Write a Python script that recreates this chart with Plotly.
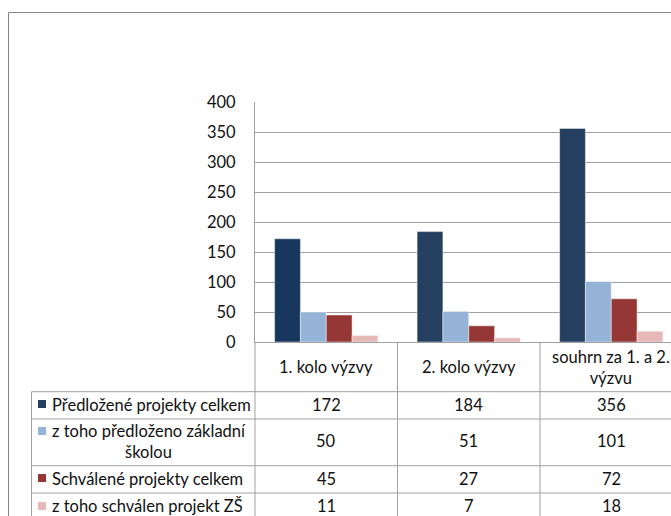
import plotly.graph_objects as go

# ---- data ----
categories = ["1. kolo výzvy", "2. kolo výzvy", "souhrn za 1. a 2.<br>výzvu"]
series_names = [
    "Předložené projekty celkem",
    "z toho předloženo základní<br>školou",
    "Schválené projekty celkem",
    "z toho schválen projekt ZŠ",
]
predlozene = [172, 184, 356]
predlozene_zs = [50, 51, 101]
schvalene = [45, 27, 72]
schvalene_zs = [11, 7, 18]
series_values = [predlozene, predlozene_zs, schvalene, schvalene_zs]
y_ticks = [0, 50, 100, 150, 200, 250, 300, 350, 400]

# ---- style ----
W, H = 671, 516
ML, MR, MT, MB = 255, 0, 102, 174
PW, PH = W - ML - MR, H - MT - MB
CAT_W = 142.5
XR = [-0.5, PW / CAT_W - 0.5]
colors = ["#243F60", "#95B3D7", "#953735", "#E6B9B8"]
first_colors = ["#17375E", "#243F60", "#243F60"]
FONT = "Lato"
FS = 16.5
GRID = "#A0A0A0"
TXT = "#111111"


def px(x):
    return (x - ML) / PW


def py(y):
    return (H - MB - y) / PH


def cx(v):
    return (v - XR[0]) / (XR[1] - XR[0])


fig = go.Figure()
x_idx = list(range(len(categories)))
for i, (name, vals) in enumerate(zip(series_names, series_values)):
    fig.add_trace(go.Bar(
        x=x_idx, y=vals, name=name.replace("<br>", " "),
        marker=dict(color=first_colors if i == 0 else colors[i],
                    line=dict(color="rgba(255,255,255,0.45)", width=1)),
        showlegend=False, hoverinfo="y",
    ))

shapes = []
line = dict(color=GRID, width=1)
# outer chart border
shapes.append(dict(type="rect", xref="paper", yref="paper",
                   x0=px(8.5), x1=px(700), y0=py(12.5), y1=py(540),
                   line=dict(color="#868686", width=1)))
# table horizontal lines
row_lines = [391.7, 419, 465.7, 493, 520]
for yy in row_lines:
    shapes.append(dict(type="line", xref="paper", yref="paper",
                       x0=px(31.5), x1=px(700), y0=py(yy), y1=py(yy), line=line))
# table left border
shapes.append(dict(type="line", xref="paper", yref="paper",
                   x0=px(31.5), x1=px(31.5), y0=py(row_lines[0]), y1=py(540), line=line))
# category column dividers (from axis down through table)
for b in [-0.5, 0.5, 1.5, 2.5]:
    shapes.append(dict(type="line", xref="paper", yref="paper",
                       x0=cx(b), x1=cx(b), y0=0, y1=py(540), line=line))

annotations = []
# header row: category names
for i, c in enumerate(categories):
    annotations.append(dict(x=i, xref="x", y=py(367), yref="paper", text=c,
                            showarrow=False, xanchor="center", yanchor="middle",
                            align="center", font=dict(family=FONT, size=FS, color=TXT)))
# rows
row_centers = [405, 441, 479, 506]
key_centers = [404, 431, 478, 506]
for r, (name, vals) in enumerate(zip(series_names, series_values)):
    shapes.append(dict(type="rect", xref="paper", yref="paper",
                       x0=px(38), x1=px(46), y0=py(key_centers[r] - 4), y1=py(key_centers[r] + 4),
                       fillcolor=colors[r], line=dict(width=0)))
    annotations.append(dict(x=px(50), xref="paper", y=py(row_centers[r]), yref="paper",
                            text=name, showarrow=False, xanchor="left", yanchor="middle",
                            align="center", font=dict(family=FONT, size=FS, color=TXT)))
    for i, v in enumerate(vals):
        annotations.append(dict(x=i, xref="x", y=py(row_centers[r]), yref="paper",
                                text=str(v), showarrow=False, xanchor="center",
                                yanchor="middle", font=dict(family=FONT, size=FS, color=TXT)))

fig.update_layout(
    width=W, height=H,
    margin=dict(l=ML, r=MR, t=MT, b=MB),
    paper_bgcolor="white", plot_bgcolor="white",
    barmode="group", bargap=0.275, bargroupgap=0,
    xaxis=dict(range=XR, showticklabels=False, showgrid=False, zeroline=False,
               showline=True, linecolor=GRID, linewidth=1, ticks="", fixedrange=True),
    yaxis=dict(range=[0, 400], tickvals=y_ticks, showgrid=True, gridcolor=GRID, gridwidth=1,
               zeroline=False, showline=True, linecolor=GRID, linewidth=1, ticks="",
               ticklabelstandoff=15,
               tickfont=dict(family=FONT, size=FS, color=TXT), fixedrange=True),
    shapes=shapes, annotations=annotations,
    font=dict(family=FONT, size=FS, color=TXT),
)

fig.write_html(
    "out.html",
    config={"displayModeBar": False},
    post_script="document.body.style.margin='0';document.body.style.overflow='hidden';",
)
